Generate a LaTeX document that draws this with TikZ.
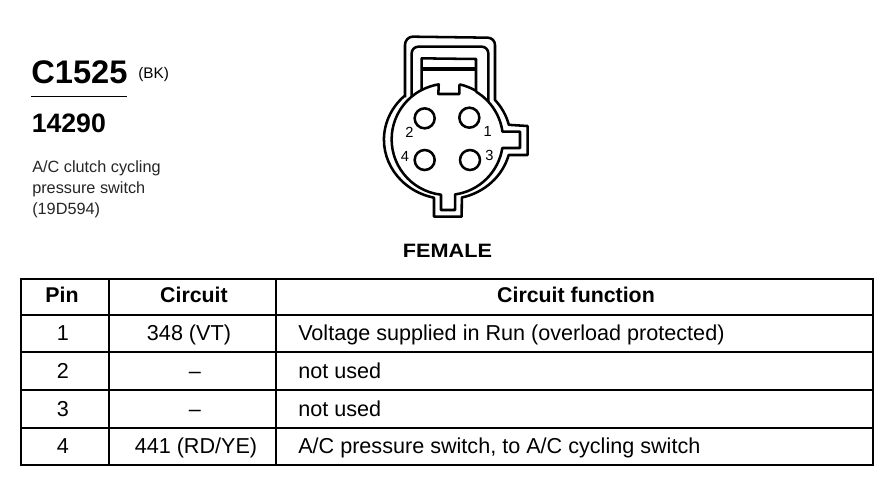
\documentclass[tikz,border=0pt]{standalone}
\usepackage{fontspec}
\setmainfont{Liberation Sans}
\begin{document}
\begin{tikzpicture}[x=0.75pt,y=0.75pt,
  tbl/.style={line width=2pt,black},
  conn/.style={line width=1.9pt,black,line join=round},
  pincirc/.style={line width=1.9pt,black},
  body/.style={font=\fontsize{16.2}{16.2}\selectfont,anchor=base,inner sep=0pt},
  head/.style={font=\bfseries\fontsize{16}{16}\selectfont,anchor=base,inner sep=0pt},
  lefttext/.style={anchor=base west,inner sep=0pt},
  pinnum/.style={font=\fontsize{11}{11}\selectfont,inner sep=0pt}]
\useasboundingbox (0,-480) rectangle (886,0);
\fill[white] (0,-480) rectangle (886,0);
% heading
\node[lefttext,font=\bfseries\fontsize{24.5}{24.5}\selectfont] (title) at (31,-83) {C1525};
\node[lefttext,font=\fontsize{11.5}{11.5}\selectfont] (bk) at (138,-78) {(BK)};
\draw[line width=1.4pt] (31,-96.5) -- (127,-96.5);
\node[lefttext,font=\bfseries\fontsize{20}{20}\selectfont] (num) at (31.5,-132) {14290};
\node[lefttext,font=\fontsize{12.2}{12.2}\selectfont,text=black!85] (d1) at (32,-172) {A/C clutch cycling};
\node[lefttext,font=\fontsize{12.2}{12.2}\selectfont,text=black!85] (d2) at (32,-193) {pressure switch};
\node[lefttext,font=\fontsize{12.2}{12.2}\selectfont,text=black!85] (d3) at (32,-214) {(19D594)};
% connector
\begin{scope}[shift={(360,-20)},x=0.25pt,y=0.25pt]
 \draw[conn] (135,-232) -- (135,-75) to[out=90,in=180] (158,-50) -- (383,-53) to[out=0,in=90] (405,-75) -- (405,-240)
   arc[start angle=41.2,end angle=13.9,x radius=190,y radius=178] -- (503,-318) -- (503,-405) -- (446,-405)
   arc[start angle=-14.9,end angle=-76.9,x radius=190,y radius=178] -- (305,-590) -- (222,-590) -- (222,-533)
   arc[start angle=-102.1,end angle=-228,x radius=190,y radius=178];
 \draw[conn] (155,-230) -- (155,-100) to[out=90,in=180] (175,-80) -- (365,-80) to[out=0,in=90] (385,-100) -- (385,-245);
 \draw[conn] (348,-215) arc[start angle=59,end angle=8,radius=167] -- (480,-335) -- (480,-384) -- (427,-384)
   arc[start angle=-9,end angle=-82,radius=167] -- (285,-570) -- (243,-570) -- (243,-524)
   arc[start angle=-96.5,end angle=-242.5,radius=167];
 \draw[conn] (185,-210) arc[start angle=117.5,end angle=98.9,radius=167] -- (235,-222) -- (298,-222) -- (298,-193);
 \draw[conn] (298,-193) arc[start angle=78,end angle=59,radius=167];
 \draw[conn] (185,-210) -- (185,-115) -- (348,-117) -- (348,-215);
 \draw[line width=3pt] (185,-146) -- (348,-146);
 \node[pincirc,draw,circle,minimum size=15pt,inner sep=0pt] (p2) at (194,-295) {};
 \node[pincirc,draw,circle,minimum size=15pt,inner sep=0pt] (p1) at (328,-293) {};
 \node[pincirc,draw,circle,minimum size=15pt,inner sep=0pt] (p4) at (194,-420) {};
 \node[pincirc,draw,circle,minimum size=15pt,inner sep=0pt] (p3) at (330,-420) {};
 \node[pinnum] (n2) at (148,-337) {2};
 \node[pinnum] (n1) at (383,-335) {1};
 \node[pinnum] (n4) at (135,-408) {4};
 \node[pinnum] (n3) at (388,-407) {3};
\end{scope}
\node[anchor=base,inner sep=0pt,font=\bfseries\fontsize{14.5}{14.5}\selectfont,xscale=1.12,transform shape] (female) at (447.5,-257) {FEMALE};
% table
\draw[tbl] (21,-279) rectangle (873,-465);
\foreach \yy in {315,352,390,428} \draw[tbl] (21,-\yy) -- (873,-\yy);
\draw[tbl] (109,-279) -- (109,-465);
\draw[tbl] (276,-279) -- (276,-465);
\node[head] (h1) at (62,-302) {Pin};
\node[head] (h2) at (194,-302) {Circuit};
\node[head] (h3) at (576,-302) {Circuit function};
\node[body] (a1) at (63,-340) {1};
\node[body] (b1) at (189,-340) {348 (VT)};
\node[body,anchor=base west] (c1) at (298,-340) {Voltage supplied in Run (overload protected)};
\node[body] (a2) at (63,-378) {2};
\node[body] (b2) at (195,-378) {–};
\node[body,anchor=base west] (c2) at (298,-378) {not used};
\node[body] (a3) at (63,-416) {3};
\node[body] (b3) at (195,-416) {–};
\node[body,anchor=base west] (c3) at (298,-416) {not used};
\node[body] (a4) at (63,-453) {4};
\node[body] (b4) at (196,-453) {441 (RD/YE)};
\node[body,anchor=base west] (c4) at (298,-453) {A/C pressure switch, to A/C cycling switch};
\end{tikzpicture}
\end{document}
